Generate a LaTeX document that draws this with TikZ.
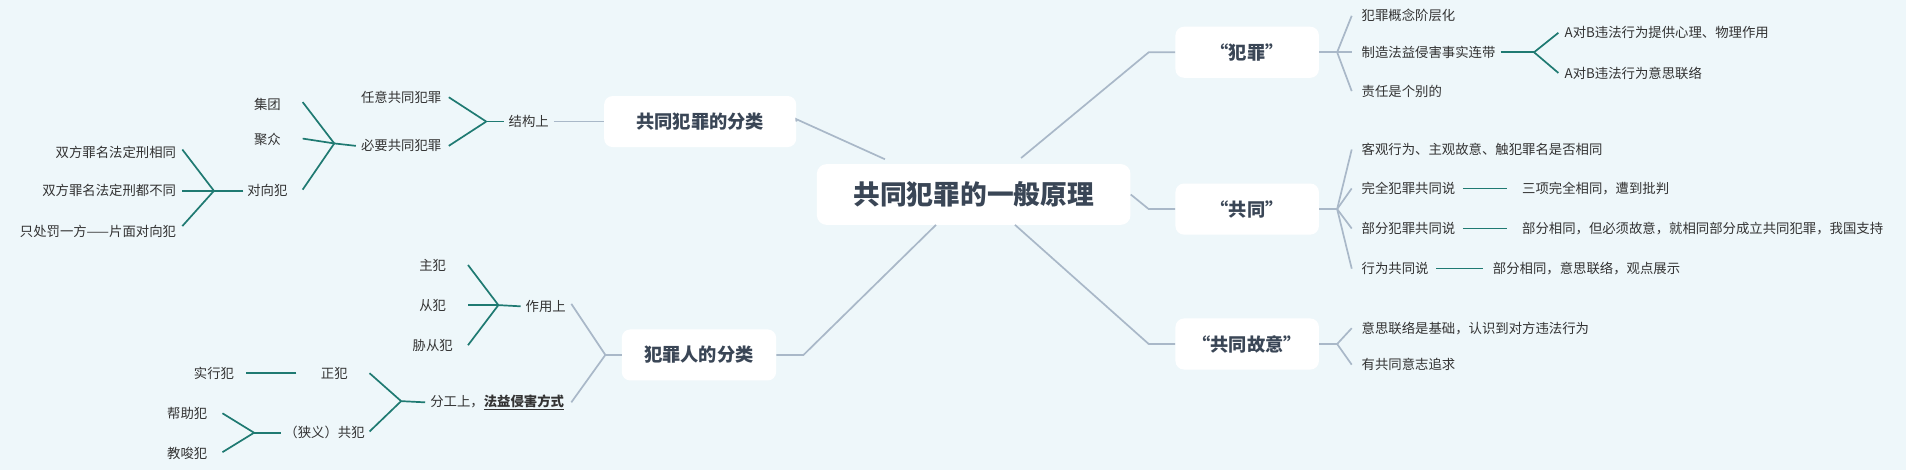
\documentclass[tikz,border=0pt]{standalone}
\usepackage{fontspec}
\setmainfont{Noto Sans CJK SC}
\usetikzlibrary{positioning}
\definecolor{bgcol}{HTML}{EEF7FA}
\definecolor{graycol}{HTML}{A9B8C8}
\definecolor{tealcol}{HTML}{1F7A72}
\definecolor{txtcol}{HTML}{333333}
\definecolor{boxtxt}{HTML}{3A4656}
\tikzset{
  topic/.style={draw=none, fill=white, rounded corners=8pt, text=boxtxt, font=\fontsize{22}{26}\selectfont\bfseries, minimum width=258pt, minimum height=50pt},
  branch/.style={draw=none, fill=white, rounded corners=7pt, text=boxtxt, font=\fontsize{15}{18}\selectfont\bfseries, minimum height=42pt},
  leaf/.style={inner sep=0pt, text=txtcol, font=\fontsize{11}{13}\selectfont},
  gline/.style={draw=graycol, line width=1.4pt},
  tline/.style={draw=tealcol, line width=1.4pt},
}
\begin{document}
\begin{tikzpicture}[x=1pt,y=-1pt]
    \fill[bgcol] (0,0) rectangle (1568,387);
    \useasboundingbox (0,0) rectangle (1568,387);

    % main topics
    \node[topic] (root) at (801,160) {共同犯罪的一般原理};
    \node[branch, minimum width=118pt] (fz) at (1026,43) {“犯罪”};
    \node[branch, minimum width=118pt] (gt) at (1026,172) {“共同”};
    \node[branch, minimum width=118pt] (gg) at (1026,283) {“共同故意”};
    \node[branch, minimum width=158pt] (fl) at (576,100) {共同犯罪的分类};
    \node[branch, minimum width=127pt] (fr) at (575,292) {犯罪人的分类};

    \draw[gline] (840,130) -- (945,43) -- (fz.west);
    \draw[gline] (root.east) -- (945,172) -- (gt.west);
    \draw[gline] (835,185) -- (945,283) -- (gg.west);
    \draw[gline] (728,131) -- (655,98) -- (fl.east);
    \draw[gline] (770,185) -- (661,292) -- (fr.east);

    % "犯罪"
    \node[leaf, anchor=west] (fz1) at (1120,13) {犯罪概念阶层化};
    \node[leaf, anchor=west] (fz2) at (1120,43) {制造法益侵害事实连带};
    \node[leaf, anchor=west] (fz3) at (1120,75) {责任是个别的};
    \coordinate (fzb) at (1100,43);
    \draw[gline] (fz.east) -- (fzb);
    \foreach \n in {fz1,fz2,fz3}
        \draw[gline] (fzb) -- ([xshift=-8pt]\n.west);
    \node[leaf, anchor=west] (fz21) at (1287,27) {A对B违法行为提供心理、物理作用};
    \node[leaf, anchor=west] (fz22) at (1287,60) {A对B违法行为意思联络};
    \coordinate (fz2b) at (1262,43);
    \draw[tline] ([xshift=4pt]fz2.east) -- (fz2b);
    \draw[tline] (fz2b) -- ([xshift=-5pt]fz21.west);
    \draw[tline] (fz2b) -- ([xshift=-5pt]fz22.west);

    % "共同"
    \node[leaf, anchor=west] (gt1) at (1120,123) {客观行为、主观故意、触犯罪名是否相同};
    \node[leaf, anchor=west] (gt2) at (1120,155) {完全犯罪共同说};
    \node[leaf, anchor=west] (gt3) at (1120,188) {部分犯罪共同说};
    \node[leaf, anchor=west] (gt4) at (1120,221) {行为共同说};
    \coordinate (gtb) at (1100,172);
    \draw[gline] (gt.east) -- (gtb);
    \foreach \n in {gt1,gt2,gt3,gt4}
        \draw[gline] (gtb) -- ([xshift=-8pt]\n.west);
    \node[leaf, anchor=west] (gt21) at (1252,155) {三项完全相同，遭到批判};
    \node[leaf, anchor=west] (gt31) at (1252,188) {部分相同，但必须故意，就相同部分成立共同犯罪，我国支持};
    \node[leaf, anchor=west] (gt41) at (1228,221) {部分相同，意思联络，观点展示};
    \draw[tline] ([xshift=6pt]gt2.east) -- ([xshift=-12pt]gt21.west);
    \draw[tline] ([xshift=6pt]gt3.east) -- ([xshift=-12pt]gt31.west);
    \draw[tline] ([xshift=6pt]gt4.east) -- ([xshift=-8pt]gt41.west);

    % "共同故意"
    \node[leaf, anchor=west] (gg1) at (1120,270) {意思联络是基础，认识到对方违法行为};
    \node[leaf, anchor=west] (gg2) at (1120,300) {有共同意志追求};
    \coordinate (ggb) at (1100,283);
    \draw[gline] (gg.east) -- (ggb);
    \foreach \n in {gg1,gg2}
        \draw[gline] (ggb) -- ([xshift=-8pt]\n.west);

    % 共同犯罪的分类
    \node[leaf] (jg) at (435,100) {结构上};
    \draw[gline] ([xshift=4pt]jg.east) -- (fl.west);
    \node[leaf] (ry) at (330,80) {任意共同犯罪};
    \node[leaf] (by) at (330,120) {必要共同犯罪};
    \coordinate (jgb) at (400,100);
    \draw[tline] ([xshift=-4pt]jg.west) -- (jgb);
    \draw[tline] (jgb) -- ([xshift=6pt]ry.east);
    \draw[tline] (jgb) -- ([xshift=6pt]by.east);
    \node[leaf] (jt) at (220,86) {集团};
    \node[leaf] (jz) at (220,115) {聚众};
    \node[leaf] (dx) at (220,157) {对向犯};
    \coordinate (byb) at (275,118);
    \draw[tline] ([xshift=-4pt]by.west) -- (byb);
    \draw[tline] (byb) -- (249,84);
    \draw[tline] (byb) -- (249,114);
    \draw[tline] (byb) -- (249,156);
    \node[leaf, anchor=east] (dx1) at (145,125) {双方罪名法定刑相同};
    \node[leaf, anchor=east] (dx2) at (145,157) {双方罪名法定刑都不同};
    \node[leaf, anchor=east] (dx3) at (145,190) {只处罚一方——片面对向犯};
    \coordinate (dxb) at (176,157);
    \draw[tline] ([xshift=-3pt]dx.west) -- (dxb);
    \draw[tline] (dxb) -- (150,123);
    \draw[tline] (dxb) -- (150,157);
    \draw[tline] (dxb) -- (150,186);

    % 犯罪人的分类
    \node[leaf] (zy) at (449,252) {作用上};
    \node[leaf] (fg) at (409,331) {分工上，\underline{\bfseries 法益侵害方式}};
    \coordinate (frb) at (498,292);
    \draw[gline] (fr.west) -- (frb);
    \draw[gline] (frb) -- (470,250);
    \draw[gline] (frb) -- (470,331);
    \node[leaf] (zf) at (356,218) {主犯};
    \node[leaf] (cf) at (356,251) {从犯};
    \node[leaf] (xf) at (356,284) {胁从犯};
    \coordinate (zyb) at (410,251);
    \draw[tline] ([xshift=-4pt]zy.west) -- (zyb);
    \draw[tline] (zyb) -- (385,218);
    \draw[tline] (zyb) -- (385,251);
    \draw[tline] (zyb) -- (385,284);
    \node[leaf] (zhf) at (275,307) {正犯};
    \node[leaf] (gf) at (267,356) {（狭义）共犯};
    \coordinate (fgb) at (330,330);
    \draw[tline] ([xshift=-4pt]fg.west) -- (fgb);
    \draw[tline] (fgb) -- (304,307);
    \draw[tline] (fgb) -- (304,355);
    \node[leaf] (sx) at (176,307) {实行犯};
    \draw[tline] ([xshift=-20pt]zhf.west) -- ([xshift=10pt]sx.east);
    \node[leaf] (bz) at (154,340) {帮助犯};
    \node[leaf] (js) at (154,373) {教唆犯};
    \coordinate (gfb) at (209,356);
    \draw[tline] ([xshift=-3pt]gf.west) -- (gfb);
    \draw[tline] (gfb) -- (183,340);
    \draw[tline] (gfb) -- (183,372);
\end{tikzpicture}
\end{document}
